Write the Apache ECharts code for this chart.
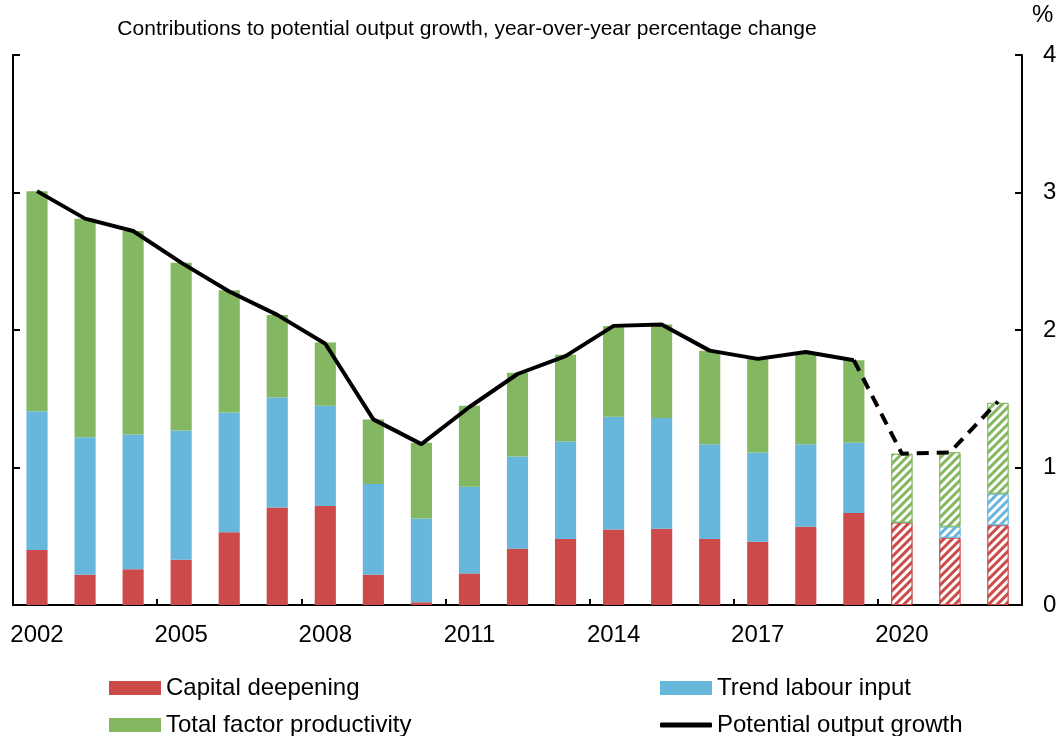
<!DOCTYPE html>
<html>
<head>
<meta charset="utf-8">
<script src="https://cdn.jsdelivr.net/npm/echarts@6/dist/echarts.min.js"></script>
<style>
  html, body { margin: 0; padding: 0; background: #fff; }
  #main { width: 1060px; height: 736px; }
</style>
</head>
<body>
<div id="main"></div>
<script>
// chart data
var years = ['2002', '2003', '2004', '2005', '2006', '2007', '2008', '2009', '2010', '2011',
  '2012', '2013', '2014', '2015', '2016', '2017', '2018', '2019', '2020', '2021', '2022']
var capital = [0.40, 0.22, 0.26, 0.33, 0.53, 0.71, 0.72, 0.22, 0.02, 0.23,
  0.41, 0.48, 0.55, 0.555, 0.48, 0.46, 0.57, 0.67, 0.60, 0.49, 0.58]
var labour = [1.01, 1.00, 0.98, 0.94, 0.87, 0.80, 0.73, 0.66, 0.61, 0.63,
  0.67, 0.71, 0.82, 0.805, 0.69, 0.65, 0.60, 0.51, 0.00, 0.08, 0.23]
var tfp = [1.60, 1.59, 1.48, 1.22, 0.89, 0.60, 0.46, 0.47, 0.55, 0.59,
  0.61, 0.63, 0.66, 0.68, 0.68, 0.68, 0.66, 0.60, 0.50, 0.54, 0.66]
var potential = [3.01, 2.81, 2.72, 2.49, 2.28, 2.11, 1.90, 1.35, 1.17, 1.44,
  1.68, 1.81, 2.03, 2.04, 1.85, 1.79, 1.84, 1.78, 1.10, 1.11, 1.48]
var yTicks = [0, 1, 2, 3, 4]
var firstProjected = 18  // 2020 onwards is hatched / dashed

var colors = {
  capital: '#cc4a4a',
  labour: '#67b6db',
  tfp: '#83b761',
  line: '#000000'
}
var font = 'Liberation Sans, Arial, sans-serif'

// hatched look for the projection years
var hatch = {
  symbol: 'rect',
  symbolSize: 1,
  color: '#ffffff',
  dashArrayX: [1, 0],
  dashArrayY: [2.5, 2.5],
  rotation: -Math.PI / 4
}
var barData = function (values, color) {
  return values.map(function (v, i) {
    if (i < firstProjected) return v
    return { value: v, itemStyle: { color: color, decal: hatch, borderColor: color, borderWidth: 1 } }
  })
}
var solidLine = potential.map(function (v, i) { return i < firstProjected ? v : null })
var dashedLine = potential.map(function (v, i) { return i >= firstProjected - 1 ? v : null })

// one legend box per entry so they sit where the original puts them
var legendItem = function (name, left, top, extra) {
  return Object.assign({
    left: left, top: top,
    itemWidth: 52, itemHeight: 14, itemGap: 0,
    textStyle: { fontSize: 24, color: '#000', fontFamily: font },
    data: [{ name: name, icon: 'rect' }]
  }, extra || {})
}

var myChart = echarts.init(document.getElementById('main'))

var yAxisBase = {
  type: 'value',
  min: yTicks[0],
  max: yTicks[yTicks.length - 1],
  interval: 1,
  splitLine: { show: false },
  axisLine: { show: true, lineStyle: { color: '#000', width: 2 } },
  axisTick: { show: true, inside: true, length: 7, lineStyle: { color: '#000', width: 2 } }
}

var option = {
  animation: false,
  textStyle: { fontFamily: font },
  title: {
    text: 'Contributions to potential output growth, year-over-year percentage change',
    left: 462,
    textAlign: 'center',
    top: 14,
    textStyle: { fontSize: 21, fontWeight: 'normal', color: '#000', fontFamily: font }
  },
  grid: { left: 13, right: 38, top: 55, bottom: 131 },
  legend: [
    legendItem('Capital deepening', 104, 671),
    legendItem('Total factor productivity', 104, 708),
    legendItem('Trend labour input', 655, 671),
    legendItem('Potential output growth', 655, 708, {
      itemHeight: 5,
      data: [{ name: 'Potential output growth', icon: 'roundRect', itemStyle: { color: '#000' } }]
    })
  ],
  xAxis: {
    type: 'category',
    data: years,
    axisLine: { lineStyle: { color: '#000', width: 2 } },
    axisTick: { show: true, inside: true, length: 6, lineStyle: { color: '#000', width: 2 } },
    axisLabel: { interval: 2, fontSize: 24, color: '#000', margin: 18 }
  },
  yAxis: [
    Object.assign({}, yAxisBase, {
      position: 'left',
      axisLabel: { show: false }
    }),
    Object.assign({}, yAxisBase, {
      position: 'right',
      name: '%',
      nameLocation: 'end',
      nameGap: 28,
      nameTextStyle: { fontSize: 24, color: '#000', align: 'left', padding: [0, 0, 0, 10] },
      axisLabel: { fontSize: 24, color: '#000', margin: 21 }
    })
  ],
  series: [
    {
      name: 'Capital deepening',
      type: 'bar',
      stack: 'total',
      barWidth: '44%',
      itemStyle: { color: colors.capital },
      data: barData(capital, colors.capital)
    },
    {
      name: 'Trend labour input',
      type: 'bar',
      stack: 'total',
      barWidth: '44%',
      itemStyle: { color: colors.labour },
      data: barData(labour, colors.labour)
    },
    {
      name: 'Total factor productivity',
      type: 'bar',
      stack: 'total',
      barWidth: '44%',
      itemStyle: { color: colors.tfp },
      data: barData(tfp, colors.tfp)
    },
    {
      name: 'Potential output growth',
      type: 'line',
      showSymbol: false,
      symbol: 'none',
      lineStyle: { color: colors.line, width: 4 },
      itemStyle: { color: colors.line },
      data: solidLine,
      z: 5
    },
    {
      name: 'Potential output growth (projection)',
      type: 'line',
      showSymbol: false,
      symbol: 'none',
      lineStyle: { color: colors.line, width: 4, type: [12, 8] },
      itemStyle: { color: colors.line },
      data: dashedLine,
      z: 5
    }
  ]
}
myChart.setOption(option)
</script>
</body>
</html>
